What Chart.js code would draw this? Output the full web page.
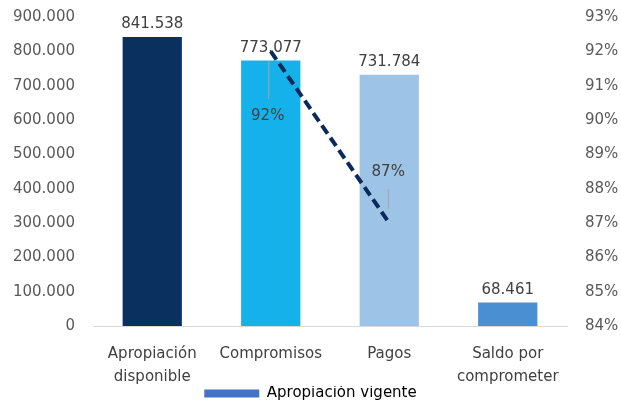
<!DOCTYPE html>
<html>
<head>
<meta charset="utf-8">
<script src="https://cdn.jsdelivr.net/npm/chart.js@4"></script>
<style>
  html, body { margin: 0; padding: 0; background: #fff; }
  #wrap { width: 621px; height: 403px; position: relative; }
</style>
</head>
<body>
<div id="wrap"><canvas id="chart"></canvas></div>
<script>
// chart data
const categories = [['Apropiación', 'disponible'], 'Compromisos', 'Pagos', ['Saldo por', 'comprometer']];
const amounts = [841538, 773077, 731784, 68461];
const percents = [null, 92, 87, null];
const barColors = ['#0a3060', '#14b1ea', '#9dc3e6', '#4b8fd3'];
const legendLabel = 'Apropiación vigente';

const FONT = '"DejaVu Sans", sans-serif';

function fmt(n) {
  return String(n).replace(/\B(?=(\d{3})+(?!\d))/g, '.');
}

// value labels above bars + percent labels with leader lines
const labelsPlugin = {
  id: 'labels',
  afterDatasetsDraw(chart) {
    const ctx = chart.ctx;
    ctx.save();
    ctx.font = '15px ' + FONT;
    ctx.fillStyle = '#404040';
    ctx.textAlign = 'center';
    ctx.textBaseline = 'bottom';
    chart.getDatasetMeta(0).data.forEach((bar, i) => {
      ctx.fillText(fmt(amounts[i]), bar.x, bar.y - 5);
    });

    const pts = chart.getDatasetMeta(1).data;
    ctx.strokeStyle = '#a6a6a6';
    ctx.lineWidth = 1;
    // 92% below the point
    const p1 = pts[1];
    ctx.beginPath();
    ctx.moveTo(p1.x - 2, p1.y + 10);
    ctx.lineTo(p1.x - 2, p1.y + 48);
    ctx.stroke();
    ctx.textBaseline = 'middle';
    ctx.fillText(percents[1] + '%', p1.x - 3, p1.y + 65);
    // 87% above the point
    const p2 = pts[2];
    ctx.beginPath();
    ctx.moveTo(p2.x - 1, p2.y - 34);
    ctx.lineTo(p2.x - 1, p2.y - 14);
    ctx.stroke();
    ctx.fillText(percents[2] + '%', p2.x - 1, p2.y - 51);
    ctx.restore();
  }
};

function noVPad(s) {
  s.paddingTop = 0;
  s.paddingBottom = 0;
}

new Chart(document.getElementById('chart'), {
  data: {
    labels: categories,
    datasets: [
      {
        type: 'bar',
        label: legendLabel,
        data: amounts,
        backgroundColor: barColors,
        barPercentage: 0.5,
        categoryPercentage: 1,
        yAxisID: 'y',
        order: 2
      },
      {
        type: 'line',
        label: 'pct',
        data: percents,
        borderColor: '#0b2a5a',
        borderWidth: 4,
        borderDash: [10, 5],
        pointRadius: 0,
        fill: false,
        yAxisID: 'y1',
        order: 1
      }
    ]
  },
  options: {
    responsive: true,
    maintainAspectRatio: false,
    animation: false,
    layout: { padding: { top: 17, bottom: -8, left: 0, right: 0 } },
    plugins: {
      tooltip: { enabled: false },
      legend: {
        position: 'bottom',
        labels: {
          font: { family: FONT, size: 15 },
          color: '#404040',
          boxWidth: 55,
          boxHeight: 8,
          padding: 0,
          generateLabels: () => [{
            text: legendLabel,
            fillStyle: '#4472c4',
            strokeStyle: '#4472c4',
            lineWidth: 0,
            datasetIndex: 0
          }]
        }
      }
    },
    scales: {
      x: {
        grid: { display: false, drawTicks: false },
        border: { color: '#d9d9d9', width: 1 },
        ticks: {
          font: { family: FONT, size: 15, lineHeight: 1.5 },
          color: '#404040',
          padding: 17,
          maxRotation: 0,
          autoSkip: false
        },
        afterFit(s) { s.height = 60; }
      },
      y: {
        position: 'left',
        min: 0,
        max: 900000,
        grid: { display: false, drawTicks: false },
        border: { display: false },
        ticks: {
          stepSize: 100000,
          font: { family: FONT, size: 15 },
          color: '#595959',
          padding: 18,
          callback: v => fmt(v)
        },
        afterFit(s) { s.width = 93; noVPad(s); }
      },
      y1: {
        position: 'right',
        min: 84,
        max: 93,
        grid: { display: false, drawTicks: false },
        border: { display: false },
        ticks: {
          stepSize: 1,
          font: { family: FONT, size: 15 },
          color: '#595959',
          padding: 18,
          callback: v => v + '%'
        },
        afterFit(s) { s.width = 54; noVPad(s); }
      }
    }
  },
  plugins: [labelsPlugin]
});
</script>
</body>
</html>
